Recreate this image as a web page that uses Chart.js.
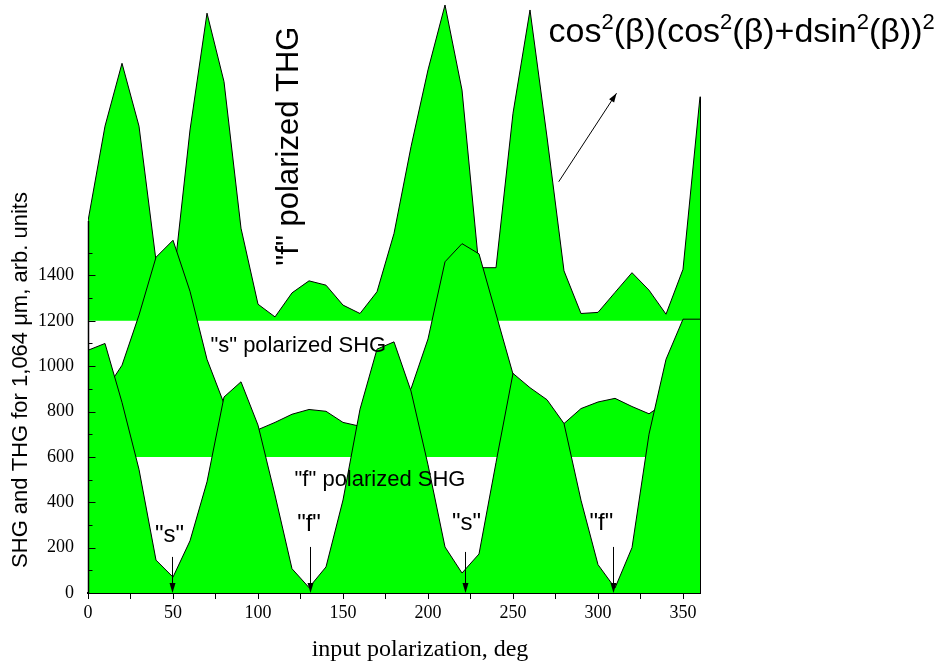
<!DOCTYPE html>
<html>
<head>
<meta charset="utf-8">
<script src="https://cdn.jsdelivr.net/npm/chart.js@4.4.1/dist/chart.umd.min.js"></script>
<style>
  html, body { margin: 0; padding: 0; background: #fff; }
  #wrap { width: 940px; height: 665px; }
</style>
</head>
<body>
<div id="wrap"><canvas id="chart" width="940" height="665"></canvas></div>
<script>
// input polarization, deg
const angles = [0, 10, 20, 30, 40, 50, 60, 70, 80, 90, 100, 110, 120, 130, 140, 150, 160, 170, 180,
  190, 200, 210, 220, 230, 240, 250, 260, 270, 280, 290, 300, 310, 320, 330, 340, 350, 360];

// "f" polarized SHG (baseline 0)
const shgF = [1070, 1100, 840, 545, 145, 70, 230, 490, 864, 931, 740, 432, 107, 24, 115, 410, 810, 1075, 1107,
  890, 565, 203, 88, 172, 575, 968, 905, 852, 747, 409, 125, 22, 200, 700, 1030, 1207, 1207];

// "s" polarized SHG (baseline 600)
const shgS = [900, 890, 1004, 1225, 1480, 1555, 1330, 1030, 835, 760, 720, 752, 788, 809, 801, 752, 735, 760, 830,
  900, 1120, 1460, 1540, 1495, 1230, 965, 850, 790, 747, 813, 842, 858, 822, 790, 840, 880, 900];

// "f" polarized THG (baseline 1200)
const thgF = [1640, 2058, 2335, 2058, 1465, 1360, 2041, 2556, 2254, 1608, 1273, 1217, 1323, 1376, 1357, 1269, 1232, 1328, 1585,
  1967, 2306, 2592, 2217, 1434, 1434, 2115, 2570, 2010, 1420, 1232, 1237, 1325, 1412, 1335, 1229, 1427, 2188];

const yTickLabels = [0, 200, 400, 600, 800, 1000, 1200, 1400];
const xTickLabels = [0, 50, 100, 150, 200, 250, 300, 350];

const GREEN = '#00ff00';
const SANS = '"Liberation Sans", Arial, sans-serif';
const SERIF = '"Liberation Serif", "Times New Roman", serif';

function pts(arr) {
  return angles.map((a, i) => ({ x: a, y: arr[i] }));
}

function series(label, arr, base) {
  return {
    label,
    data: pts(arr),
    fill: { value: base },
    backgroundColor: GREEN,
    borderColor: '#000',
    borderWidth: 1,
    pointRadius: 0,
    tension: 0
  };
}

// annotations, in data units
const minima = [
  { deg: 49.5, top: 159, text: '"s"', tx: 48, ty: 226 },
  { deg: 130.5, top: 203, text: '"f"', tx: 130, ty: 273 },
  { deg: 221.5, top: 181, text: '"s"', tx: 222.6, ty: 277 },
  { deg: 309, top: 203, text: '"f"', tx: 302, ty: 277 }
];

function arrowHead(ctx, x1, y1, x2, y2, len, half) {
  const a = Math.atan2(y2 - y1, x2 - x1);
  ctx.beginPath();
  ctx.moveTo(x2, y2);
  ctx.lineTo(x2 - len * Math.cos(a) + half * Math.sin(a), y2 - len * Math.sin(a) - half * Math.cos(a));
  ctx.lineTo(x2 - len * Math.cos(a) - half * Math.sin(a), y2 - len * Math.sin(a) + half * Math.cos(a));
  ctx.closePath();
  ctx.fill();
}

const bgPlugin = {
  id: 'bg',
  beforeDraw(chart) {
    const ctx = chart.ctx;
    ctx.save();
    ctx.fillStyle = '#fff';
    ctx.fillRect(0, 0, chart.width, chart.height);
    ctx.restore();
  }
};

// vertical outline at both ends of every filled area
const edgePlugin = {
  id: 'edges',
  afterDatasetDraw(chart, args) {
    const ds = chart.data.datasets[args.index];
    const xs = chart.scales.x, ys = chart.scales.y;
    const ctx = chart.ctx;
    const d = ds.data;
    ctx.save();
    ctx.strokeStyle = '#000';
    ctx.lineWidth = 1;
    [d[0], d[d.length - 1]].forEach(p => {
      const px = Math.round(xs.getPixelForValue(p.x)) + 0.5;
      ctx.beginPath();
      ctx.moveTo(px, ys.getPixelForValue(ds.fill.value));
      ctx.lineTo(px, ys.getPixelForValue(p.y));
      ctx.stroke();
    });
    ctx.restore();
  }
};

const decoPlugin = {
  id: 'deco',
  afterDraw(chart) {
    const ctx = chart.ctx;
    const xs = chart.scales.x, ys = chart.scales.y;
    const X = v => xs.getPixelForValue(v);
    const Y = v => ys.getPixelForValue(v);
    ctx.save();

    // y axis line and inward ticks
    const ax = Math.round(X(0)) + 0.5;
    ctx.strokeStyle = '#000';
    ctx.lineWidth = 1.5;
    ctx.beginPath();
    ctx.moveTo(ax, Y(0));
    ctx.lineTo(ax, Y(thgF[0]));
    ctx.stroke();
    ctx.lineWidth = 1;
    for (let v = 0; v <= 1500; v += 100) {
      const len = v % 200 === 0 ? 7 : 4;
      const py = Math.round(Y(v)) + 0.5;
      ctx.beginPath();
      ctx.moveTo(ax, py);
      ctx.lineTo(ax + len, py);
      ctx.stroke();
    }

    // minima markers
    ctx.fillStyle = '#000';
    ctx.font = '24px ' + SANS;
    ctx.textAlign = 'center';
    ctx.textBaseline = 'alphabetic';
    minima.forEach(m => {
      const px = Math.round(X(m.deg)) + 0.5;
      ctx.beginPath();
      ctx.moveTo(px, Y(m.top));
      ctx.lineTo(px, Y(0) - 8);
      ctx.stroke();
      arrowHead(ctx, px, Y(m.top), px, Y(0), 10, 3);
      ctx.fillText(m.text, X(m.tx), Y(m.ty));
    });

    // curve labels
    ctx.font = '22px ' + SANS;
    ctx.textAlign = 'left';
    ctx.fillText('"s" polarized SHG', X(72), Y(1062));
    ctx.fillText('"f" polarized SHG', X(121.5), Y(471));

    ctx.save();
    ctx.translate(X(118.5), Y(1970));
    ctx.rotate(-Math.PI / 2);
    ctx.font = '31px ' + SANS;
    ctx.textAlign = 'center';
    ctx.textBaseline = 'middle';
    ctx.fillText('"f" polarized THG', 0, 0);
    ctx.restore();

    // formula
    const parts = [['cos', 0], ['2', 1], ['(β)(cos', 0], ['2', 1], ['(β)+dsin', 0], ['2', 1], ['(β))', 0], ['2', 1]];
    let fx = X(270.9);
    const fy = Y(2429);
    ctx.textAlign = 'left';
    parts.forEach(([t, sup]) => {
      ctx.font = (sup ? '22px ' : '34px ') + SANS;
      ctx.fillText(t, fx, sup ? fy - 13 : fy);
      fx += ctx.measureText(t).width;
    });

    // formula pointer
    ctx.lineWidth = 1;
    ctx.beginPath();
    ctx.moveTo(X(276.9), Y(1813));
    ctx.lineTo(X(310.9), Y(2203));
    ctx.stroke();
    arrowHead(ctx, X(276.9), Y(1813), X(310.9), Y(2203), 9, 3);

    // axis titles
    ctx.save();
    ctx.translate(21, 380);
    ctx.rotate(-Math.PI / 2);
    ctx.font = '22px ' + SANS;
    ctx.textAlign = 'center';
    ctx.textBaseline = 'middle';
    ctx.fillText('SHG and THG for 1,064 μm, arb. units', 0, 0);
    ctx.restore();

    ctx.font = '24px ' + SERIF;
    ctx.textAlign = 'center';
    ctx.textBaseline = 'middle';
    ctx.fillText('input polarization, deg', 420, 650);

    ctx.restore();
  }
};

new Chart(document.getElementById('chart'), {
  type: 'line',
  data: {
    datasets: [
      series('"f" polarized SHG', shgF, 0),
      series('"s" polarized SHG', shgS, 600),
      series('"f" polarized THG', thgF, 1200)
    ]
  },
  options: {
    responsive: false,
    animation: false,
    layout: { padding: { left: 0, right: 240, top: 0, bottom: 0 } },
    plugins: { legend: { display: false }, tooltip: { enabled: false } },
    scales: {
      x: {
        type: 'linear',
        min: 0,
        max: 360,
        afterFit: s => { s.height = 72; s.paddingLeft = 0; s.paddingRight = 0; },
        ticks: {
          stepSize: 25,
          includeBounds: false,
          autoSkip: false,
          maxRotation: 0,
          padding: 3,
          color: '#000',
          font: { family: SERIF, size: 18 },
          callback: v => xTickLabels.includes(v) ? String(v) : ''
        },
        grid: { drawOnChartArea: false, drawTicks: true, tickLength: 6, color: '#000', lineWidth: 1 },
        border: { display: true, color: '#000', width: 2 }
      },
      y: {
        type: 'linear',
        min: 0,
        max: 2614,
        afterFit: s => { s.width = 88; s.paddingTop = 0; s.paddingBottom = 0; },
        ticks: {
          stepSize: 100,
          includeBounds: false,
          autoSkip: false,
          maxTicksLimit: 100,
          padding: 6,
          color: '#000',
          font: { family: SERIF, size: 18 },
          callback: v => yTickLabels.includes(v) ? String(v) : ''
        },
        grid: { display: false },
        border: { display: false }
      }
    }
  },
  plugins: [bgPlugin, edgePlugin, decoPlugin]
});
</script>
</body>
</html>
